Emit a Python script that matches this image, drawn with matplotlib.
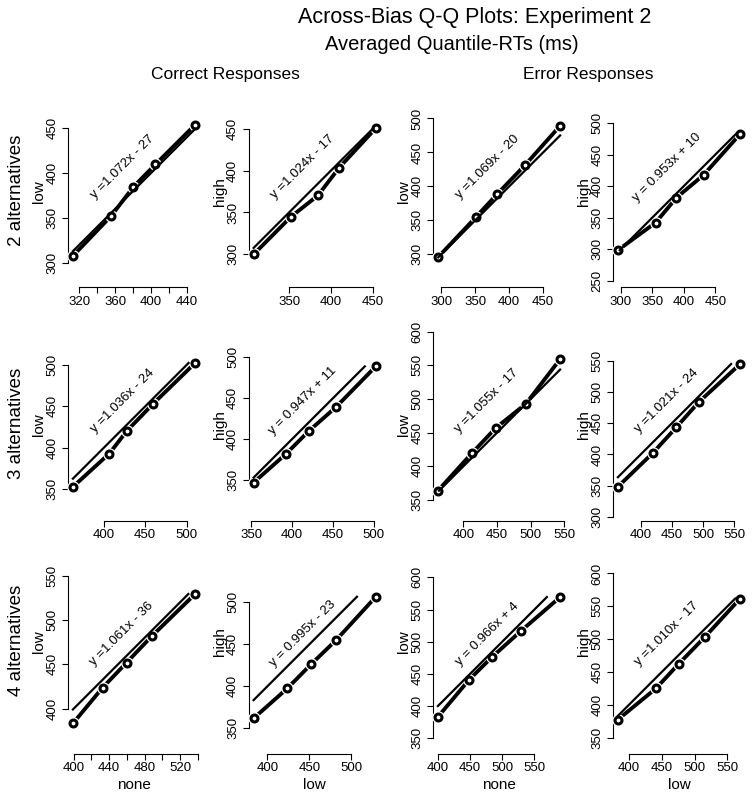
import numpy as np
import matplotlib
matplotlib.use("Agg")
import matplotlib.pyplot as plt

plt.rcParams['font.family'] = ['Liberation Sans', 'DejaVu Sans']

# ---------------- data: averaged quantile RTs (ms) ----------------
# Correct responses
corr_none = [[313, 355.6, 380.4, 404.8, 449],      # 2 alternatives
             [362.7, 406.7, 428.1, 459.8, 510.4],  # 3 alternatives
             [399.3, 432.7, 459.7, 488.2, 536.8]]  # 4 alternatives
corr_low = [[307.7, 352.2, 384.6, 409.5, 453.6],
            [352.8, 393.0, 420.6, 453.3, 502.5],
            [383.6, 423.8, 452.0, 481.9, 529.2]]
corr_high = [[300.0, 344.8, 370.4, 403.1, 450.7],
             [346.7, 382.3, 410.0, 438.8, 489.0],
             [361.9, 397.6, 426.2, 455.1, 506.7]]
# Error responses
err_none = [[295.1, 351.5, 381.9, 423.5, 475.0],
            [362.0, 412.5, 448.1, 492.6, 543.5],
            [400.0, 448.6, 483.5, 528.6, 589.9]]
err_low = [[295.5, 355.3, 388.2, 431.5, 489.2],
           [363.6, 419.3, 457.0, 492.6, 559.0],
           [383.1, 441.0, 475.6, 516.3, 569.3]]
err_high = [[298.4, 342.1, 381.5, 417.8, 482.5],
            [348.4, 402.2, 443.4, 483.4, 544.6],
            [377.4, 424.8, 462.1, 504.0, 561.8]]

eq_labels = [["y =1.072x - 27", "y =1.024x - 17", "y =1.069x - 20", "y = 0.953x + 10"],
             ["y =1.036x - 24", "y = 0.947x + 11", "y =1.055x - 17", "y =1.021x - 24"],
             ["y =1.061x - 36", "y = 0.995x - 23", "y = 0.966x + 4", "y =1.010x - 17"]]

row_labels = ["2 alternatives", "3 alternatives", "4 alternatives"]
x_names = ["none", "low", "none", "low"]
y_names = ["low", "high", "low", "high"]

# tick values per panel
x_ticks = [[list(range(320, 441, 20)), [350, 400, 450], [300, 350, 400, 450], [300, 350, 400, 450]],
           [[400, 450, 500], [350, 400, 450, 500], [400, 450, 500, 550], [400, 450, 500, 550]],
           [list(range(400, 541, 20)), [400, 450, 500], [400, 450, 500, 550], [400, 450, 500, 550]]]
x_tick_labelled = [[[320, 360, 400, 440], None, None, None],
                   [None, None, None, None],
                   [[400, 440, 480, 520], None, None, None]]
y_ticks = [[[300, 350, 400, 450], [300, 350, 400, 450], [300, 350, 400, 450, 500], [250, 300, 350, 400, 450, 500]],
           [[350, 400, 450, 500], [350, 400, 450, 500], [350, 400, 450, 500, 550, 600], [300, 350, 400, 450, 500, 550]],
           [[400, 450, 500, 550], [350, 400, 450, 500], [350, 400, 450, 500, 550, 600], [350, 400, 450, 500, 550, 600]]]

# ---------------- layout (pixels) ----------------
FW, FH = 755, 802
col_left = [68, 248.7, 433, 613]
row_bottom = [287.3, 520.7, 754]
AW, AH = 132, 200
y_axis_bottom = [[272.8, 260.7, 251.5, 239.6],
                 [311.9, 300.0, 319.1, 294.1],
                 [349.2, 319.4, 325.5, 325.0]]
label_center_y = [192, 425, 642]

fig = plt.figure(figsize=(FW / 100, FH / 100), dpi=100)

pairs = [(corr_none, corr_low), (corr_low, corr_high), (err_none, err_low), (err_low, err_high)]

for r in range(3):
    for c in range(4):
        xs = np.array(pairs[c][0][r])
        ys = np.array(pairs[c][1][r])
        left = col_left[c]
        bottom = row_bottom[r]
        ax = fig.add_axes([left / FW, 1 - bottom / FH, AW / FW, AH / FH])
        ax.patch.set_visible(False)
        rng = xs.max() - xs.min()
        x0, x1 = xs.min() - 0.04 * rng, xs.max() + 0.04 * rng
        scale = AW / (x1 - x0)
        yb = y_axis_bottom[r][c]
        ax.set_xlim(x0, x1)
        ax.set_ylim(yb, yb + AH / scale)

        # identity line over the overlapping range
        lo = max(xs.min(), ys.min())
        hi = min(xs.max(), ys.max())
        ax.plot(xs, ys, color='black', lw=2.8, solid_capstyle='butt', zorder=2, clip_on=False)
        ax.plot(xs, ys, 'o', ms=9, color='white', mec='none', zorder=3, clip_on=False)
        ax.plot(xs, ys, 'o', ms=5, mfc='white', mec='black', mew=2.2, zorder=4, clip_on=False)
        ax.plot([lo, hi], [lo, hi], color='black', lw=1.6, zorder=5, clip_on=False)

        ax.text(0.41, 0.60, eq_labels[r][c], transform=ax.transAxes, rotation=45,
                ha='center', va='center', fontsize=9.5)

        for s in ['top', 'right']:
            ax.spines[s].set_visible(False)
        xt = x_ticks[r][c]
        yt = y_ticks[r][c]
        ax.spines['left'].set_bounds(yt[0], yt[-1])
        ax.spines['bottom'].set_bounds(xt[0], xt[-1])
        for s in ['left', 'bottom']:
            ax.spines[s].set_linewidth(0.8)
        ax.set_xticks(xt)
        lab = x_tick_labelled[r][c]
        ax.set_xticklabels([str(v) if (lab is None or v in lab) else '' for v in xt])
        ax.set_yticks(yt)
        ax.set_yticklabels([str(v) for v in yt], rotation=90, va='center')
        ax.tick_params(axis='both', direction='out', length=4, width=0.8, labelsize=9.5)
        ax.tick_params(axis='x', pad=2)
        ax.tick_params(axis='y', pad=3)

        ax.set_ylabel(y_names[c], fontsize=11)
        ax.yaxis.set_label_coords(-29 / AW, (bottom - label_center_y[r]) / AH)
        ax.yaxis.label.set_va('center')
        if r == 2:
            ax.set_xlabel(x_names[c], fontsize=11)
            ax.xaxis.set_label_coords(0.5, (bottom - 785) / AH)
            ax.xaxis.label.set_va('center')

for r in range(3):
    fig.text(17 / FW, 1 - (label_center_y[r] - 2) / FH, row_labels[r], rotation=90,
             ha='center', va='center', fontsize=13.5)

fig.text(475 / FW, 1 - 18 / FH, "Across-Bias Q-Q Plots: Experiment 2", ha='center', va='center', fontsize=15.5)
fig.text(452 / FW, 1 - 45 / FH, "Averaged Quantile-RTs (ms)", ha='center', va='center', fontsize=14.5)
fig.text(225 / FW, 1 - 74 / FH, "Correct Responses", ha='center', va='center', fontsize=12.5)
fig.text(588 / FW, 1 - 74 / FH, "Error Responses", ha='center', va='center', fontsize=12.5)

fig.savefig("out.png", dpi=100)
